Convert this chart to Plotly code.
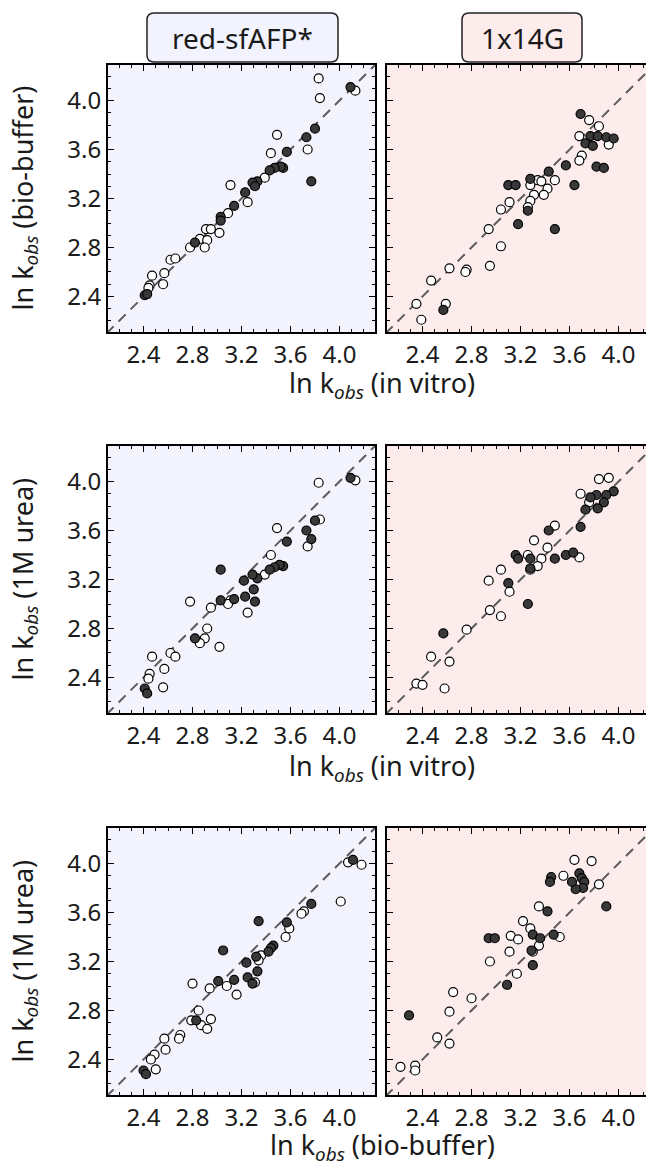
import plotly.graph_objects as go

W, H = 646, 1167

# ---------------- data ----------------
tick_vals = [2.4, 2.8, 3.2, 3.6, 4.0]
tick_text = ["2.4", "2.8", "3.2", "3.6", "4.0"]
proteins = ["red-sfAFP*", "1x14G"]

# Panel 1: red-sfAFP*, in vitro (x) vs bio-buffer (y)
sf_vb_open_x = [3.83, 3.84, 4.13, 3.49, 3.44, 3.74, 3.39, 3.11, 3.25, 3.09, 3.02, 2.91, 2.95, 2.86, 2.92, 2.78, 2.90, 2.62, 2.66, 2.47, 2.57, 2.56, 2.45, 2.44]
sf_vb_open_y = [4.18, 4.02, 4.08, 3.72, 3.57, 3.60, 3.37, 3.31, 3.17, 3.08, 2.92, 2.95, 2.95, 2.87, 2.86, 2.80, 2.80, 2.70, 2.71, 2.57, 2.59, 2.50, 2.49, 2.47]
sf_vb_fill_x = [4.09, 3.80, 3.73, 3.77, 3.57, 3.54, 3.52, 3.47, 3.43, 3.33, 3.29, 3.31, 3.23, 3.14, 3.03, 3.03, 2.82, 2.41, 2.43]
sf_vb_fill_y = [4.11, 3.77, 3.70, 3.34, 3.58, 3.45, 3.46, 3.45, 3.43, 3.34, 3.33, 3.30, 3.25, 3.14, 3.05, 3.02, 2.84, 2.41, 2.42]

# Panel 2: 1x14G, in vitro (x) vs bio-buffer (y)
g_vb_fill_x = [3.69, 3.77, 3.83, 3.90, 3.96, 3.73, 3.79, 3.82, 3.88, 3.57, 3.43, 3.28, 3.10, 3.16, 3.64, 3.26, 3.18, 3.48, 2.57]
g_vb_fill_y = [3.89, 3.71, 3.71, 3.70, 3.69, 3.65, 3.63, 3.46, 3.45, 3.47, 3.42, 3.36, 3.31, 3.31, 3.31, 3.10, 2.99, 2.95, 2.29]
g_vb_open_x = [3.76, 3.84, 3.68, 3.92, 3.70, 3.68, 3.34, 3.37, 3.48, 3.28, 3.42, 3.31, 3.39, 3.28, 3.26, 3.11, 3.04, 2.94, 3.04, 2.95, 2.76, 2.75, 2.62, 2.47, 2.35, 2.39, 2.59]
g_vb_open_y = [3.84, 3.79, 3.71, 3.64, 3.55, 3.51, 3.35, 3.34, 3.35, 3.31, 3.28, 3.23, 3.23, 3.18, 3.13, 3.17, 3.11, 2.95, 2.81, 2.65, 2.62, 2.60, 2.63, 2.53, 2.34, 2.21, 2.34]

# Panel 3: red-sfAFP*, in vitro (x) vs 1M urea (y)
sf_vu_fill_x = [4.09, 3.80, 3.73, 3.77, 3.57, 3.54, 3.51, 3.47, 3.43, 3.03, 3.33, 3.29, 3.22, 3.30, 3.23, 3.31, 3.14, 3.03, 2.82, 2.41, 2.43]
sf_vu_fill_y = [4.03, 3.68, 3.60, 3.53, 3.51, 3.31, 3.32, 3.30, 3.28, 3.28, 3.21, 3.24, 3.19, 3.12, 3.06, 3.02, 3.04, 3.03, 2.72, 2.31, 2.27]
sf_vu_open_x = [3.83, 4.13, 3.84, 3.49, 3.74, 3.44, 3.39, 3.25, 3.11, 3.09, 2.95, 2.78, 2.92, 2.90, 2.86, 3.02, 2.62, 2.66, 2.47, 2.57, 2.45, 2.44, 2.56]
sf_vu_open_y = [3.99, 4.01, 3.69, 3.62, 3.47, 3.40, 3.24, 2.93, 3.03, 3.00, 2.97, 3.02, 2.80, 2.72, 2.68, 2.65, 2.60, 2.57, 2.57, 2.47, 2.43, 2.39, 2.32]

# Panel 4: 1x14G, in vitro (x) vs 1M urea (y)
g_vu_fill_x = [3.96, 3.90, 3.82, 3.77, 3.88, 3.83, 3.73, 3.69, 3.43, 3.16, 3.18, 3.28, 3.28, 3.48, 3.57, 3.63, 3.10, 3.26, 2.57]
g_vu_fill_y = [3.92, 3.89, 3.89, 3.87, 3.83, 3.78, 3.77, 3.63, 3.60, 3.40, 3.37, 3.37, 3.29, 3.37, 3.40, 3.42, 3.17, 3.00, 2.76]
g_vu_open_x = [3.92, 3.84, 3.69, 3.76, 3.48, 3.31, 3.42, 3.37, 3.68, 3.26, 3.34, 3.28, 3.04, 2.94, 3.11, 2.95, 3.04, 2.76, 2.47, 2.62, 2.35, 2.40, 2.58]
g_vu_open_y = [4.03, 4.02, 3.90, 3.83, 3.64, 3.52, 3.46, 3.37, 3.38, 3.40, 3.31, 3.28, 3.28, 3.19, 3.10, 2.95, 2.90, 2.79, 2.57, 2.53, 2.35, 2.34, 2.31]

# Panel 5: red-sfAFP*, bio-buffer (x) vs 1M urea (y)
sf_bu_fill_x = [4.11, 3.77, 3.34, 3.57, 3.05, 3.46, 3.44, 3.42, 3.32, 3.24, 3.33, 3.25, 3.29, 3.14, 3.01, 2.83, 2.40, 2.42]
sf_bu_fill_y = [4.03, 3.67, 3.53, 3.52, 3.29, 3.33, 3.31, 3.28, 3.24, 3.19, 3.12, 3.07, 3.02, 3.05, 3.04, 2.72, 2.31, 2.28]
sf_bu_open_x = [4.18, 4.07, 4.01, 3.71, 3.69, 3.59, 3.56, 3.36, 3.34, 3.31, 3.08, 2.94, 3.16, 2.80, 2.85, 2.79, 2.95, 2.87, 2.92, 2.70, 2.69, 2.57, 2.58, 2.49, 2.46, 2.50]
sf_bu_open_y = [3.99, 4.01, 3.69, 3.61, 3.59, 3.47, 3.40, 3.25, 3.21, 3.03, 3.00, 2.98, 2.93, 3.02, 2.80, 2.72, 2.73, 2.68, 2.65, 2.60, 2.57, 2.57, 2.48, 2.44, 2.40, 2.32]

# Panel 6: 1x14G, bio-buffer (x) vs 1M urea (y)
g_bu_fill_x = [3.68, 3.70, 3.72, 3.71, 3.65, 3.62, 3.45, 3.44, 3.90, 3.42, 2.94, 2.99, 3.30, 3.36, 3.47, 3.29, 3.30, 3.09, 2.29]
g_bu_fill_y = [3.92, 3.88, 3.85, 3.80, 3.79, 3.85, 3.89, 3.85, 3.65, 3.61, 3.39, 3.39, 3.42, 3.39, 3.42, 3.29, 3.17, 3.01, 2.76]
g_bu_open_x = [3.64, 3.78, 3.55, 3.84, 3.35, 3.22, 3.28, 3.12, 3.18, 3.52, 3.35, 3.30, 3.11, 2.95, 3.17, 2.80, 2.65, 2.62, 2.52, 2.62, 2.22, 2.34, 2.34]
g_bu_open_y = [4.03, 4.02, 3.90, 3.83, 3.65, 3.53, 3.47, 3.41, 3.38, 3.40, 3.33, 3.28, 3.28, 3.20, 3.10, 2.90, 2.95, 2.79, 2.58, 2.53, 2.34, 2.35, 2.31]

x_titles = ["in vitro", "in vitro", "bio-buffer"]
y_titles = ["bio-buffer", "1M urea", "1M urea"]

panels = [
    (sf_vb_open_x, sf_vb_open_y, sf_vb_fill_x, sf_vb_fill_y),
    (g_vb_open_x, g_vb_open_y, g_vb_fill_x, g_vb_fill_y),
    (sf_vu_open_x, sf_vu_open_y, sf_vu_fill_x, sf_vu_fill_y),
    (g_vu_open_x, g_vu_open_y, g_vu_fill_x, g_vu_fill_y),
    (sf_bu_open_x, sf_bu_open_y, sf_bu_fill_x, sf_bu_fill_y),
    (g_bu_open_x, g_bu_open_y, g_bu_fill_x, g_bu_fill_y),
]

# ---------------- layout geometry (pixels) ----------------
FONT = "Noto Sans"
TICK_SIZE = 24
TITLE_SIZE = 27
PANEL_TITLE_SIZE = 28
col_px = [(108, 375), (387, 646)]
row_px = [(65, 332), (446, 713), (828, 1095)]
x_ranges = [[2.11, 4.29], [2.11, 4.224]]
y_range = [2.11, 4.29]
bg_colors = ["#f3f3fe", "#fdecec"]

def px(x):
    return x / W

def py(y):
    return 1 - y / H

fig = go.Figure()
layout = dict(
    width=W, height=H, margin=dict(l=0, r=0, t=0, b=0),
    paper_bgcolor="white", plot_bgcolor="rgba(0,0,0,0)",
    showlegend=False, font=dict(family=FONT, color="#1a1a1a"),
)
shapes = []
annotations = []

for i, (ox, oy, fx, fy) in enumerate(panels):
    r, c = divmod(i, 2)
    n = i + 1
    xa = "x" if n == 1 else f"x{n}"
    ya = "y" if n == 1 else f"y{n}"
    xkey = "xaxis" if n == 1 else f"xaxis{n}"
    ykey = "yaxis" if n == 1 else f"yaxis{n}"
    x0p, x1p = col_px[c]
    y0p, y1p = row_px[r]
    common = dict(
        showgrid=False, zeroline=False, showline=True, linecolor="black", linewidth=2,
        ticks="inside", ticklen=6, tickwidth=1, tickcolor="black",
        tickmode="array", tickvals=tick_vals, ticktext=tick_text,
        tickfont=dict(family=FONT, size=TICK_SIZE, color="#1a1a1a"),
        minor=dict(ticks="inside", ticklen=3, tickwidth=1, tickcolor="black", tick0=2.0, dtick=0.1, showgrid=False),
        automargin=False,
    )
    layout[xkey] = dict(common, domain=[px(x0p), px(x1p)], range=x_ranges[c], anchor=ya,
                        mirror="allticks")
    layout[ykey] = dict(common, domain=[py(y1p), py(y0p)], range=y_range, anchor=xa,
                        mirror="allticks" if c == 0 else False,
                        showticklabels=(c == 0))
    # background
    shapes.append(dict(type="rect", xref=f"{xa} domain", yref=f"{ya} domain", x0=0, x1=1, y0=0, y1=1,
                       fillcolor=bg_colors[c], line=dict(width=0), layer="below"))
    # diagonal
    fig.add_trace(go.Scatter(x=[2.0, 4.4], y=[2.0, 4.4], mode="lines", xaxis=xa, yaxis=ya,
                             line=dict(color="#5c5c5c", width=2, dash="10px,7px"), hoverinfo="skip"))
    fig.add_trace(go.Scatter(x=ox, y=oy, mode="markers", xaxis=xa, yaxis=ya,
                             marker=dict(size=9, color="white", line=dict(color="black", width=1.2))))
    fig.add_trace(go.Scatter(x=fx, y=fy, mode="markers", xaxis=xa, yaxis=ya,
                             marker=dict(size=9, color="#383838", line=dict(color="black", width=1.2))))

# rounded title boxes
def rounded(x0, y0, x1, y1, rad):
    pts = [
        ("M", x0 + rad, y0), ("L", x1 - rad, y0), ("Q", x1, y0, x1, y0 + rad),
        ("L", x1, y1 - rad), ("Q", x1, y1, x1 - rad, y1), ("L", x0 + rad, y1),
        ("Q", x0, y1, x0, y1 - rad), ("L", x0, y0 + rad), ("Q", x0, y0, x0 + rad, y0),
    ]
    s = ""
    for p in pts:
        cmd = p[0]
        coords = p[1:]
        pairs = []
        for k in range(0, len(coords), 2):
            pairs.append(f"{px(coords[k]):.5f},{py(coords[k+1]):.5f}")
        s += cmd + " " + " ".join(pairs) + " "
    return s + "Z"

title_boxes = [(147, 13, 338, 62), (462, 13, 582, 62)]
for c, (bx0, by0, bx1, by1) in enumerate(title_boxes):
    shapes.append(dict(type="path", xref="paper", yref="paper", path=rounded(bx0, by0, bx1, by1, 7),
                       fillcolor=bg_colors[c], line=dict(color="#222222", width=1.5), layer="above"))
    annotations.append(dict(xref="paper", yref="paper", x=px((bx0 + bx1) / 2), y=py((by0 + by1) / 2),
                            text=proteins[c], showarrow=False, xanchor="center", yanchor="middle",
                            font=dict(family=FONT, size=PANEL_TITLE_SIZE, color="#1a1a1a")))

# axis titles
x_title_y = [385, 767, 1146]
for r in range(3):
    annotations.append(dict(xref="paper", yref="paper", x=px(382), y=py(x_title_y[r]),
                            text=f"ln k<sub><i>obs</i></sub> ({x_titles[r]})", showarrow=False,
                            xanchor="center", yanchor="middle",
                            font=dict(family=FONT, size=TITLE_SIZE, color="#1a1a1a")))
    ymid = (row_px[r][0] + row_px[r][1]) / 2
    annotations.append(dict(xref="paper", yref="paper", x=px(24), y=py(ymid), textangle=-90,
                            text=f"ln k<sub><i>obs</i></sub> ({y_titles[r]})", showarrow=False,
                            xanchor="center", yanchor="middle",
                            font=dict(family=FONT, size=TITLE_SIZE, color="#1a1a1a")))

layout["shapes"] = shapes
layout["annotations"] = annotations
fig.update_layout(**layout)
fig.write_html("out.html", config={"displayModeBar": False},
               post_script="document.body.style.margin='0';")
